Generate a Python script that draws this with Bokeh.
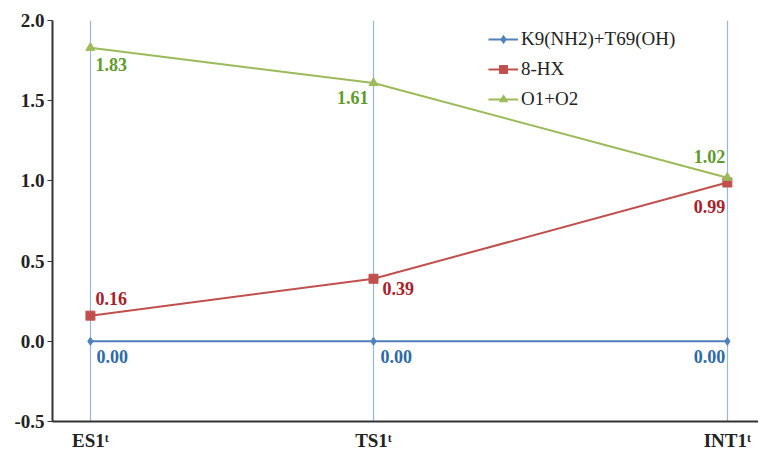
from bokeh.plotting import figure
from bokeh.models import ColumnDataSource, FixedTicker, Legend, LegendItem
from bokeh.core.properties import value
from bokeh.embed import file_html
from bokeh.resources import INLINE

categories = ["ES1ᵗ", "TS1ᵗ", "INT1ᵗ"]
x_pos = [0, 1, 2.25]
series_names = ["K9(NH2)+T69(OH)", "8-HX", "O1+O2"]
k9 = [0.00, 0.00, 0.00]
hx = [0.16, 0.39, 0.99]
o12 = [1.83, 1.61, 1.02]

line_colors = ["#4f81bd", "#c0504d", "#9bbb59"]
text_colors = ["#2e6aa6", "#a8202a", "#5f9a2c"]
font = "Liberation Serif"

p = figure(width=758, height=453, output_backend="svg", toolbar_location=None,
           x_range=(-0.134, 2.36), y_range=(-0.5, 2.0),
           min_border_left=52, min_border_top=20, min_border_bottom=29, min_border_right=0)
p.outline_line_color = None
p.background_fill_color = "white"

# axes
p.yaxis.ticker = FixedTicker(ticks=[-0.5, 0.0, 0.5, 1.0, 1.5, 2.0])
p.yaxis.major_label_overrides = {-0.5: "-0.5", 0.0: "0.0", 0.5: "0.5", 1.0: "1.0", 1.5: "1.5", 2.0: "2.0"}
p.yaxis.minor_tick_line_color = None
p.yaxis.major_tick_in = 0
p.yaxis.major_tick_out = 5
p.yaxis.major_label_standoff = 3
p.yaxis.axis_line_width = 2
p.yaxis.axis_line_color = "#333333"
p.yaxis.major_tick_line_color = "#333333"
p.yaxis.major_label_text_font = font
p.yaxis.major_label_text_font_style = "bold"
p.yaxis.major_label_text_font_size = "19px"
p.yaxis.major_label_text_color = "#222222"

p.xaxis.ticker = FixedTicker(ticks=x_pos)
p.xaxis.major_label_overrides = {x: c for x, c in zip(x_pos, categories)}
p.xaxis.major_tick_line_color = None
p.xaxis.minor_tick_line_color = None
p.xaxis.major_tick_out = 0
p.xaxis.major_tick_in = 0
p.xaxis.axis_line_width = 2
p.xaxis.axis_line_color = "#333333"
p.xaxis.major_label_standoff = 8
p.xaxis.major_label_text_font = font
p.xaxis.major_label_text_font_style = "bold"
p.xaxis.major_label_text_font_size = "19px"
p.xaxis.major_label_text_color = "#222222"

p.ygrid.grid_line_color = None
p.xgrid.ticker = FixedTicker(ticks=x_pos)
p.xgrid.grid_line_color = "#9bb5d8"
p.xgrid.grid_line_width = 1.2

series = [k9, hx, o12]
markers = ["diamond", "square", "triangle"]
msizes = [8, 9, 9]
items = []
for name, vals, lc, mk, ms in zip(series_names, series, line_colors, markers, msizes):
    src = ColumnDataSource(dict(x=x_pos, y=vals))
    r1 = p.line("x", "y", source=src, line_color=lc, line_width=2)
    r2 = p.scatter("x", "y", source=src, marker=mk, size=ms, fill_color=lc, line_color=lc)
    items.append(LegendItem(label=name, renderers=[r1, r2]))

# data labels (offsets in pixels, per point)
label_offsets = [
    [(6, 15, "left"), (7, 15, "left"), (-2, 15, "right")],
    [(5, -17, "left"), (9, 10, "left"), (-2, 24, "right")],
    [(5, 17, "left"), (-5, 14, "right"), (-2, -21, "right")],
]
for vals, tc, offs in zip(series, text_colors, label_offsets):
    src = ColumnDataSource(dict(
        x=x_pos, y=vals, t=["%.2f" % v for v in vals],
        xo=[o[0] for o in offs], yo=[o[1] for o in offs], al=[o[2] for o in offs]))
    p.text("x", "y", text="t", source=src, x_offset="xo", y_offset="yo", text_align="al",
           text_baseline="middle", text_color=tc, text_font=value(font),
           text_font_style="bold", text_font_size="18px")

legend = Legend(items=items, location=(436, 311))
legend.border_line_color = None
legend.background_fill_alpha = 0
legend.label_text_font = font
legend.label_text_font_size = "19px"
legend.label_text_color = "#222222"
legend.glyph_width = 30
legend.glyph_height = 20
legend.label_height = 20
legend.spacing = 8
legend.label_standoff = 3
legend.padding = 4
p.add_layout(legend, "center")

open("out.html", "w").write(file_html(p, INLINE))
